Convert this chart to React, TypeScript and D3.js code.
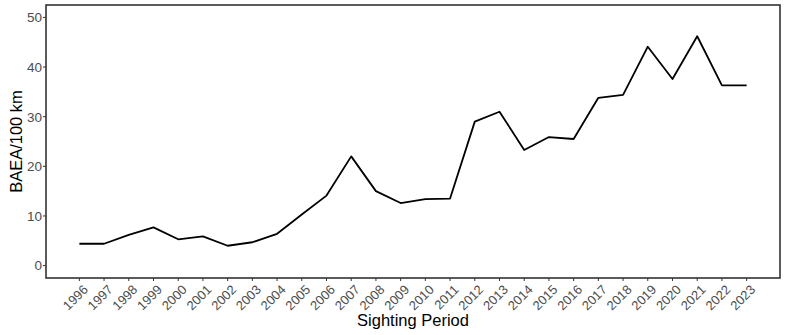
import React from 'react';
import * as d3 from 'd3';

const years = [1996, 1997, 1998, 1999, 2000, 2001, 2002, 2003, 2004, 2005, 2006, 2007, 2008, 2009,
  2010, 2011, 2012, 2013, 2014, 2015, 2016, 2017, 2018, 2019, 2020, 2021, 2022, 2023];
const baea = [4.4, 4.4, 6.2, 7.7, 5.3, 5.9, 4.0, 4.7, 6.4, 10.3, 14.1, 22.0, 15.0, 12.6,
  13.4, 13.5, 29.0, 31.0, 23.3, 25.9, 25.5, 33.8, 34.4, 44.1, 37.6, 46.2, 36.3, 36.3];
const yTicks = [0, 10, 20, 30, 40, 50];

const width = 785;
const height = 335;
const margin = { top: 5, right: 5, bottom: 57, left: 46 };

export default function App() {
  const x = d3.scaleLinear()
    .domain([1996 - 27 * 0.05, 2023 + 27 * 0.05])
    .range([margin.left, width - margin.right]);
  const y = d3.scaleLinear()
    .domain([-2.5, 52.5])
    .range([height - margin.bottom, margin.top]);

  const line = d3.line<number>()
    .x((_, i) => x(years[i]))
    .y(d => y(d));

  const axisColor = '#4d4d4d';
  const font = '"Liberation Sans", Arial, sans-serif';
  const bottom = height - margin.bottom;

  return (
    <svg width={width} height={height} style={{ position: 'absolute', left: 0, top: 0, background: '#fff' }}
      fontFamily={font}>
      <rect x={0} y={0} width={width} height={height} fill="#fff" />

      {/* y ticks */}
      {yTicks.map(t => (
        <g key={t}>
          <line x1={margin.left - 3} x2={margin.left} y1={y(t)} y2={y(t)} stroke="#333" strokeWidth={1} />
          <text x={margin.left - 4} y={y(t)} dy="0.36em" textAnchor="end" fontSize={13.5} fill={axisColor}>{t}</text>
        </g>
      ))}

      {/* x ticks */}
      {years.map(yr => (
        <g key={yr}>
          <line x1={x(yr)} x2={x(yr)} y1={bottom} y2={bottom + 3} stroke="#333" strokeWidth={1} />
          <text transform={`translate(${x(yr) + 3},${bottom + 6}) rotate(-45)`} textAnchor="end"
            dy="0.7em" fontSize={13} fill={axisColor}>{yr}</text>
        </g>
      ))}

      <path d={line(baea) ?? ''} fill="none" stroke="#000" strokeWidth={1.8} strokeLinejoin="round" />

      <rect x={margin.left} y={margin.top} width={width - margin.left - margin.right}
        height={height - margin.top - margin.bottom} fill="none" stroke="#333" strokeWidth={1.6} />

      <text x={(margin.left + width - margin.right) / 2} y={height - 9} textAnchor="middle"
        fontSize={16.5} fill="#000">Sighting Period</text>
      <text transform={`translate(22,${(margin.top + bottom) / 2}) rotate(-90)`} textAnchor="middle"
        fontSize={16.5} fill="#000">BAEA/100 km</text>
    </svg>
  );
}
